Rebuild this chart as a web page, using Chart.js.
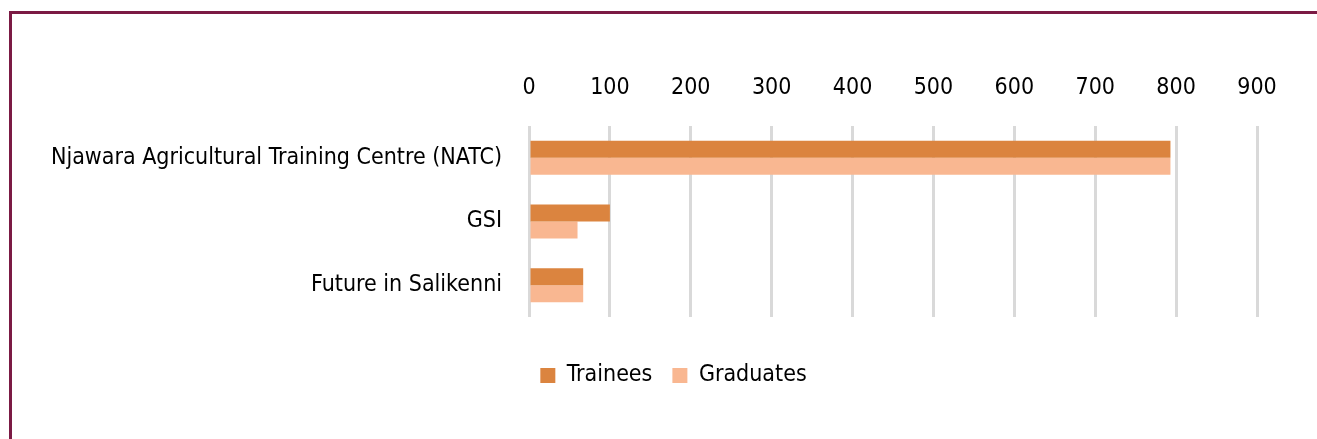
<!DOCTYPE html>
<html>
<head>
<meta charset="utf-8">
<script src="https://cdn.jsdelivr.net/npm/chart.js@4"></script>
<style>
  html, body { margin: 0; padding: 0; background: #fff; }
  #wrap { position: relative; width: 1317px; height: 439px; overflow: hidden; }
  #frame { position: absolute; left: 9px; top: 11px; width: 1400px; height: 500px;
           border-left: 3px solid #7B1A44; border-top: 3px solid #7B1A44; box-sizing: border-box; }
  canvas { position: absolute; left: 0; top: 0; }
</style>
</head>
<body>
<div id="wrap">
  <div id="frame"></div>
  <canvas id="c" width="1317" height="439"></canvas>
</div>
<script>
const categories = ["Njawara Agricultural Training Centre (NATC)", "GSI", "Future in Salikenni"];
const trainees = [793, 100, 67];
const graduates = [793, 60, 67];
const seriesNames = ["Trainees", "Graduates"];
const xTicks = [0, 100, 200, 300, 400, 500, 600, 700, 800, 900];

const FONT = "'Liberation Sans Narrow', 'DejaVu Sans Condensed', 'Liberation Sans', sans-serif";

const legendShift = {
  id: 'legendShift',
  afterLayout(chart) {
    const lg = chart.legend;
    if (!lg) return;
    lg.left += 45; lg.right += 45;
    lg.top += 27; lg.bottom += 27;
  }
};

new Chart(document.getElementById('c'), {
  type: 'bar',
  data: {
    labels: categories,
    datasets: [
      { label: seriesNames[0], data: trainees, backgroundColor: '#DB843F', borderWidth: 0 },
      { label: seriesNames[1], data: graduates, backgroundColor: '#F9B791', borderWidth: 0 }
    ]
  },
  plugins: [legendShift],
  options: {
    indexAxis: 'y',
    responsive: false,
    animation: false,
    layout: { padding: { left: 0, right: 60, top: 60, bottom: 69 } },
    categoryPercentage: 0.534,
    barPercentage: 1.0,
    scales: {
      x: {
        position: 'top',
        min: 0, max: 900,
        afterBuildTicks: (s) => { s.ticks = xTicks.map(v => ({ value: v })); },
        afterFit: (s) => { s.height = 66; },
        grid: { color: '#D9D9D9', lineWidth: 3, drawTicks: false },
        border: { display: false },
        ticks: { color: '#000', padding: 24, font: { family: FONT, size: 23 } }
      },
      y: {
        afterFit: (s) => { s.width = 529; },
        grid: { display: false, drawTicks: false },
        border: { display: false },
        ticks: { color: '#000', padding: 27, font: { family: FONT, size: 23 } }
      }
    },
    plugins: {
      tooltip: { enabled: false },
      legend: {
        position: 'bottom',
        labels: {
          color: '#000',
          boxWidth: 15, boxHeight: 15,
          padding: 20,
          font: { family: FONT, size: 23 }
        }
      }
    }
  }
});
</script>
</body>
</html>
